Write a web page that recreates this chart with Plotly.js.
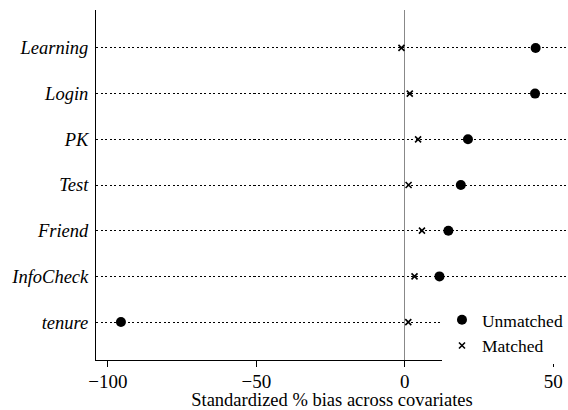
<!DOCTYPE html>
<html>
<head>
<meta charset="utf-8">
<script src="https://cdn.plot.ly/plotly-3.0.1.min.js"></script>
<style>html,body{margin:0;padding:0;background:#fff;}#chart{width:568px;height:410px;}</style>
</head>
<body>
<div id="chart"></div>
<script>
const covariates = ["Learning", "Login", "PK", "Test", "Friend", "InfoCheck", "tenure"];
const unmatched = [44.1, 43.9, 21.3, 18.9, 14.7, 11.7, -95.6];
const matched = [-1.1, 1.7, 4.5, 1.3, 5.8, 3.3, 1.2];
const xTicks = [-100, -50, 0, 50];
const xTickText = ["\u2212100", "\u221250", "0", "50"];

const serif = "Liberation Serif, Times New Roman, serif";

const traces = [
  {
    type: "scatter", mode: "markers", name: "Unmatched",
    x: unmatched, y: covariates,
    marker: {symbol: "circle", size: 10, color: "#000"}
  },
  {
    type: "scatter", mode: "markers", name: "Matched",
    x: matched, y: covariates,
    marker: {symbol: "x-thin", size: 6, color: "#000", line: {width: 1.6, color: "#000"}}
  }
];

const layout = {
  width: 568, height: 410,
  margin: {l: 96, r: 0, t: 10, b: 50},
  paper_bgcolor: "#fff", plot_bgcolor: "#fff",
  font: {family: serif, color: "#000"},
  showlegend: true,
  legend: {
    x: 0.733, y: 0.166, xanchor: "left", yanchor: "top",
    bgcolor: "#fff", font: {family: serif, size: 17.5, color: "#000"},
    tracegroupgap: 0, itemwidth: 30
  },
  xaxis: {
    range: [-104, 55],
    tickvals: xTicks, ticktext: xTickText,
    ticks: "outside", ticklen: 6, tickcolor: "#000", tickwidth: 1,
    ticklabelstandoff: -2,
    showline: true, linecolor: "#000", linewidth: 1,
    showgrid: false,
    zeroline: true, zerolinecolor: "#888", zerolinewidth: 1,
    tickfont: {family: serif, size: 19, color: "#000"},
    title: {text: "Standardized % bias across covariates", font: {family: serif, size: 18.5, color: "#000"}, standoff: 2}
  },
  yaxis: {
    type: "category",
    categoryorder: "array",
    categoryarray: covariates.slice().reverse(),
    range: [-0.83, 6.83],
    showline: true, linecolor: "#000", linewidth: 1,
    ticks: "", ticklabelstandoff: 3,
    showgrid: true, gridcolor: "#000", gridwidth: 1, griddash: "2px,2.5px",
    zeroline: false,
    tickfont: {family: serif, size: 18.5, color: "#000", style: "italic"}
  }
};

Plotly.newPlot("chart", traces, layout, {displayModeBar: false});
</script>
</body>
</html>
